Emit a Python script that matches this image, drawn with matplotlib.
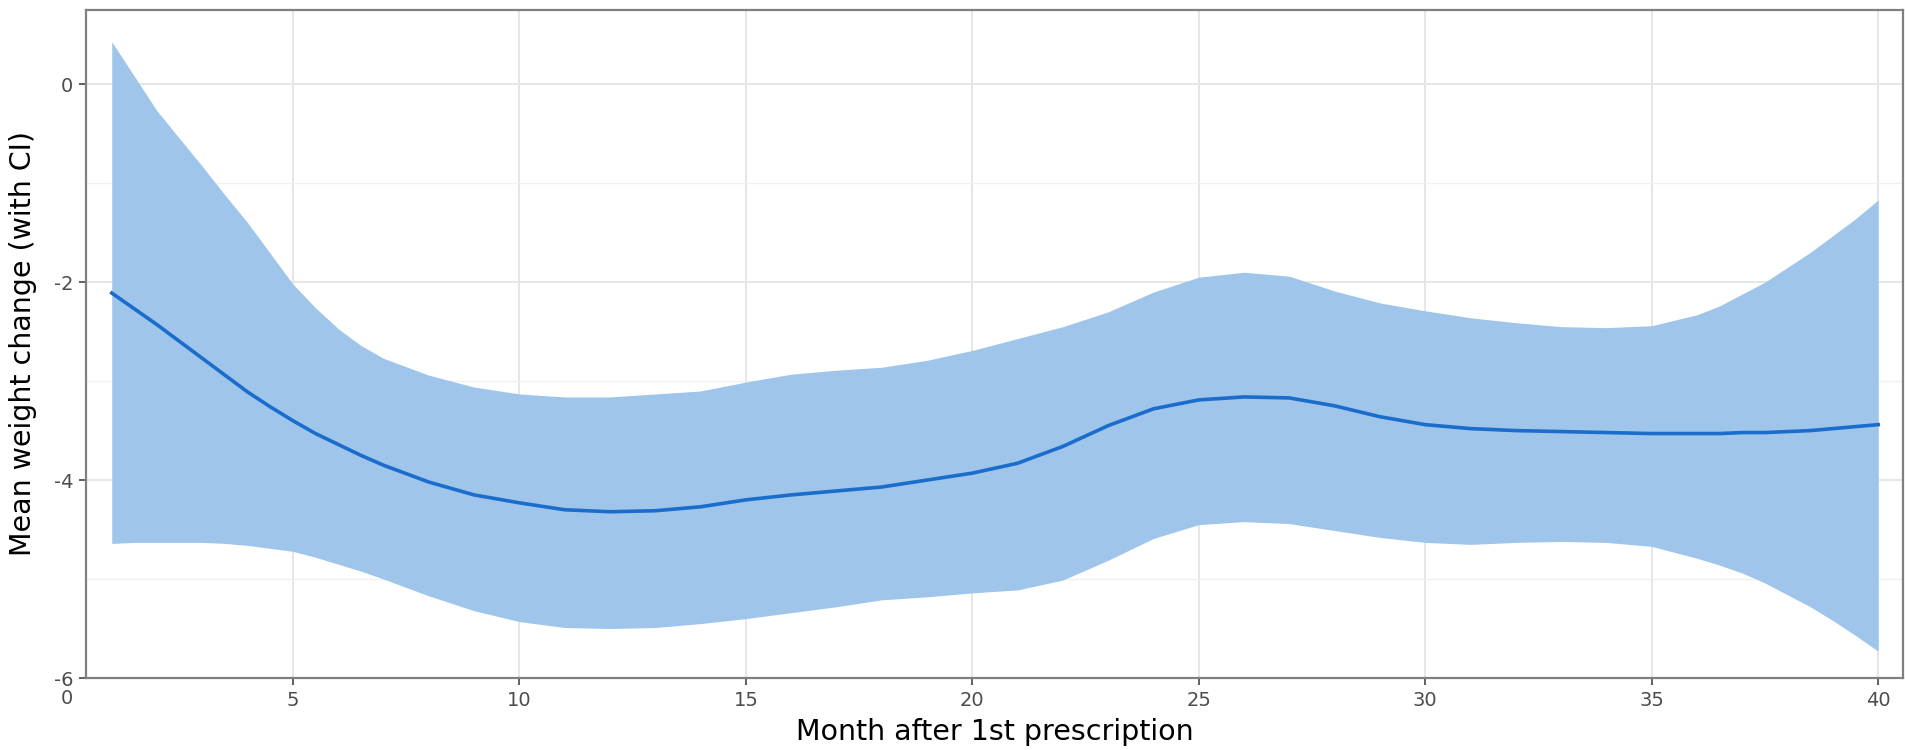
import numpy as np
import matplotlib.pyplot as plt

# smoothed mean weight change and its confidence band, by month
# (half-month readings where the curves bend sharply)
months = [1, 1.5, 2, 2.5, 3, 3.5, 4, 4.5, 5, 5.5, 6, 6.5, 7, 8, 9, 10,
          11, 12, 13, 14, 15, 16, 17, 18, 19, 20,
          21, 22, 23, 24, 25, 26, 27, 28, 29, 30,
          31, 32, 33, 34, 35, 36, 36.5, 37, 37.5, 38, 38.5, 39, 39.5, 40]
mean_change = [-2.11, -2.27, -2.43, -2.60, -2.77, -2.94, -3.11, -3.26, -3.40, -3.53,
               -3.64, -3.75, -3.85, -4.02, -4.15, -4.23,
               -4.30, -4.32, -4.31, -4.27, -4.20, -4.15, -4.11, -4.07, -4.00, -3.93,
               -3.83, -3.66, -3.45, -3.28, -3.19, -3.16, -3.17, -3.25, -3.36, -3.44,
               -3.48, -3.50, -3.51, -3.52, -3.53, -3.53, -3.53, -3.52, -3.52, -3.51,
               -3.50, -3.48, -3.46, -3.44]
ci_upper = [0.43, 0.08, -0.27, -0.55, -0.83, -1.12, -1.40, -1.71, -2.02, -2.26,
            -2.47, -2.64, -2.77, -2.94, -3.06, -3.13,
            -3.16, -3.16, -3.13, -3.10, -3.01, -2.93, -2.89, -2.86, -2.79, -2.69,
            -2.57, -2.45, -2.30, -2.10, -1.95, -1.90, -1.94, -2.09, -2.21, -2.29,
            -2.36, -2.41, -2.45, -2.46, -2.44, -2.33, -2.24, -2.12, -2.00, -1.85,
            -1.70, -1.53, -1.36, -1.17]
ci_lower = [-4.64, -4.63, -4.63, -4.63, -4.63, -4.64, -4.66, -4.69, -4.72, -4.78,
            -4.85, -4.92, -5.00, -5.17, -5.32, -5.43,
            -5.49, -5.50, -5.49, -5.45, -5.40, -5.34, -5.28, -5.21, -5.18, -5.14,
            -5.11, -5.01, -4.81, -4.59, -4.45, -4.42, -4.44, -4.51, -4.58, -4.63,
            -4.65, -4.63, -4.62, -4.63, -4.67, -4.79, -4.86, -4.94, -5.04, -5.16,
            -5.28, -5.42, -5.57, -5.73]

x_ticks = [5, 10, 15, 20, 25, 30, 35, 40]
y_ticks = [0, -2, -4, -6]

plt.rcParams['axes.unicode_minus'] = False

fig = plt.figure(figsize=(19.05, 7.5), dpi=100)
ax = fig.add_axes([0.0451, 0.096, 0.9539, 0.8907])

ax.fill_between(months, ci_lower, ci_upper, color='#9fc5eb', linewidth=0, zorder=2)
ax.plot(months, mean_change, color='#1a6dcc', linewidth=2.6, zorder=3,
        solid_joinstyle='round')

ax.set_xlim(0.43, 40.55)
ax.set_ylim(-6, 0.75)
ax.set_xticks(x_ticks)
ax.set_yticks(y_ticks)
ax.set_yticks([-1, -3, -5], minor=True)

ax.grid(True, which='major', color='#e6e6e6', linewidth=1.4, zorder=0)
ax.grid(True, which='minor', axis='y', color='#f0f0f0', linewidth=1.0, zorder=0)
ax.set_axisbelow(True)

for side in ax.spines.values():
    side.set_color('#808080')
    side.set_linewidth(1.6)

ax.tick_params(axis='both', which='major', length=5, width=1.3, color='#555555',
               labelsize=14, labelcolor='#4d4d4d', pad=4)
ax.tick_params(axis='both', which='minor', length=0)

# the zero label on the month axis sits just outside the panel
ax.text(0, -0.016, '0', transform=ax.get_xaxis_transform(), ha='center', va='top',
        fontsize=14, color='#4d4d4d', clip_on=False)

ax.set_xlabel('Month after 1st prescription', fontsize=20.5, labelpad=6)
ax.set_ylabel('Mean weight change (with CI)', fontsize=20.5, labelpad=12)

fig.savefig('out.png', dpi=100)
